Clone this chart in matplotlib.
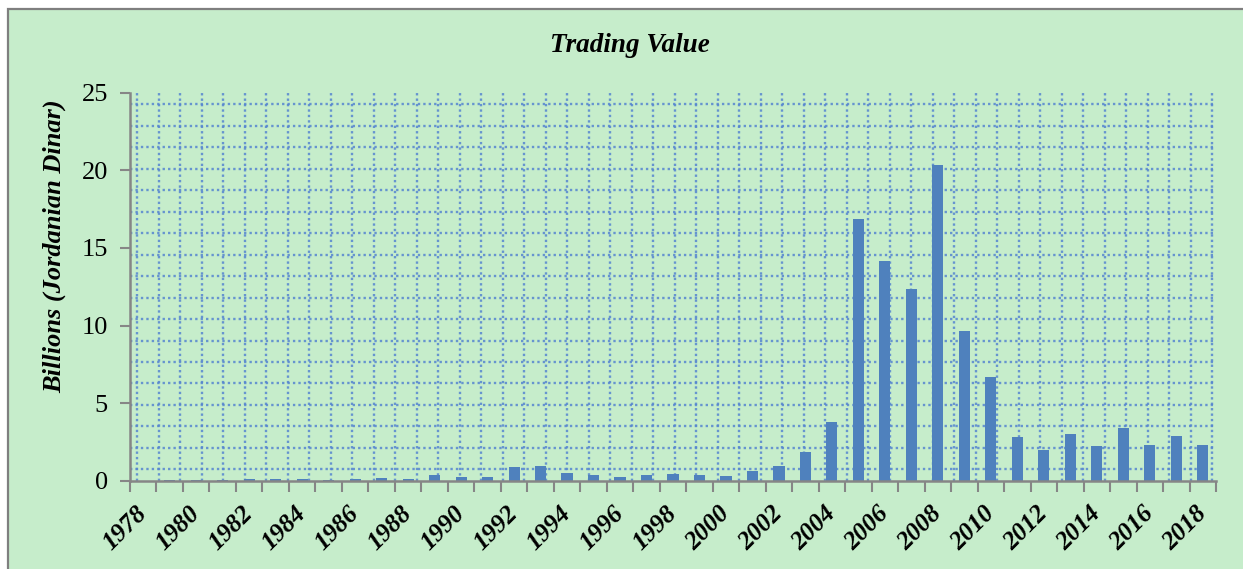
import numpy as np
import matplotlib
matplotlib.use("Agg")
from matplotlib import pyplot as plt
from matplotlib.patches import Rectangle

# trading value, billions of Jordanian dinar
years = list(range(1978, 2019))
values = [0.006, 0.015, 0.03, 0.05, 0.12, 0.13, 0.08, 0.07, 0.08, 0.15,
          0.13, 0.35, 0.24, 0.26, 0.88, 0.97, 0.47, 0.37, 0.22, 0.35,
          0.43, 0.35, 0.30, 0.65, 0.93, 1.85, 3.78, 16.86, 14.16, 12.33,
          20.34, 9.65, 6.66, 2.84, 1.96, 2.99, 2.24, 3.40, 2.32, 2.90,
          2.28]
yticks = [0, 5, 10, 15, 20, 25]

W, H = 1243, 569
serif = ['Liberation Serif', 'DejaVu Serif']
green = '#C6EDCB'
grey = '#868686'

fig = plt.figure(figsize=(W / 100, H / 100), dpi=100)
fig.patch.set_facecolor('white')

# chart area with grey frame (cut off at right and bottom)
fig.patches.append(Rectangle((8 / W, -0.05), 1.1, (H - 9) / H + 0.05,
                             transform=fig.transFigure, facecolor=green,
                             edgecolor='#7F7F7F', linewidth=1.6, zorder=-10))

left, right, top, bottom = 130, 1216, 92.7, 480.7
ax = fig.add_axes([left / W, 1 - bottom / H, (right - left) / W, (bottom - top) / H])
ax.set_facecolor(green)

# dotted grid pattern fill of the plot area (fixed pixel spacing)
pw, ph = right - left, bottom - top
step = 21.5
dot = dict(color='#5585D0', linewidth=1.7, linestyle=(0, (1, 1.3)),
           alpha=0.85, zorder=1)
for px in np.arange(7, pw, step):
    ax.plot([px / pw, px / pw], [0, 1], transform=ax.transAxes, **dot)
for py in np.arange(11.3, ph, step):
    ax.plot([0, 1], [1 - py / ph, 1 - py / ph], transform=ax.transAxes, **dot)

x = np.arange(len(years))
ax.bar(x, values, width=0.42, color='#4F81BD', zorder=3)

ax.set_xlim(-0.5, len(years) - 0.5)
ax.set_ylim(0, 25)
ax.set_yticks(yticks)
ax.set_yticklabels([str(v) for v in yticks], fontsize=19, family=serif)

# tick marks between categories, labels every other year
ax.set_xticks(np.arange(-0.5, len(years), 1.0))
ax.set_xticklabels([])
ax.set_xticks(x[::2], minor=True)
ax.set_xticklabels([str(y) for y in years[::2]], minor=True, rotation=45,
                   ha='right', va='center', rotation_mode='anchor',
                   fontsize=18.5, family=serif, fontweight='bold', style='italic')
ax.tick_params(axis='x', which='minor', length=0, pad=21)
ax.tick_params(axis='x', which='major', length=8, width=1.5, color=grey)
ax.tick_params(axis='y', length=7, width=1.5, color=grey, pad=9)

for side in ['top', 'right']:
    ax.spines[side].set_visible(False)
for side in ['left', 'bottom']:
    ax.spines[side].set_color(grey)
    ax.spines[side].set_linewidth(1.8)
    ax.spines[side].set_zorder(4)

ax.set_ylabel('Billions (Jordanian Dinar)', fontsize=19, family=serif,
              fontweight='bold', style='italic')
ax.yaxis.set_label_coords((66 - left) / pw, (bottom - 246) / ph)
fig.text(630 / W, 1 - 45 / H, 'Trading Value', ha='center', va='center',
         fontsize=19.5, family=serif, fontweight='bold', style='italic')

fig.savefig('out.png', dpi=100, facecolor=fig.get_facecolor())
